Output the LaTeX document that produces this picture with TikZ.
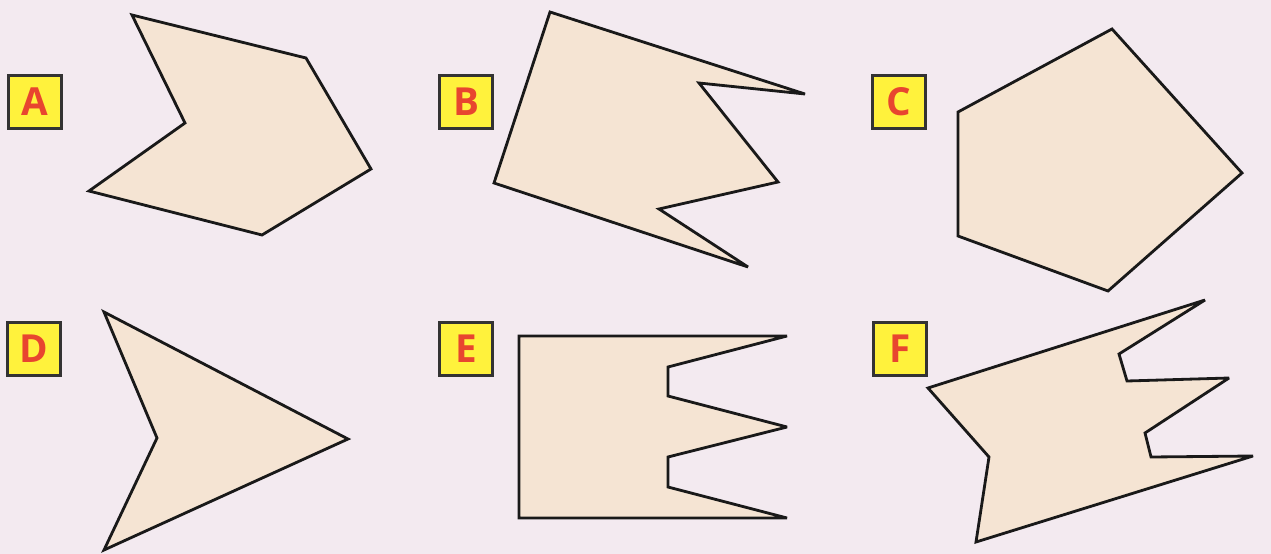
\documentclass[tikz,border=0pt]{standalone}
\usepackage{fontspec}
\setsansfont{Open Sans}
\usepackage{xcolor}
\definecolor{paper}{HTML}{F3EAF0}
\definecolor{skin}{HTML}{F5E4D3}
\definecolor{tagfill}{HTML}{FFF23C}
\definecolor{tagtext}{HTML}{E8452F}
\usetikzlibrary{positioning}

\begin{document}
\begin{tikzpicture}[x=0.02cm, y=-0.02cm,
  tag/.style={draw=black!80, line width=1.3pt, fill=tagfill, text=tagtext,
    minimum size=1.06cm, inner sep=0pt, font=\sffamily\bfseries\fontsize{22}{22}\selectfont},
  poly/.style={draw=black!90, fill=skin, line width=1.6pt, line join=miter, miter limit=3}]
  \fill[paper] (0,0) rectangle (1271,554);
  \useasboundingbox (0,0) rectangle (1271,554);
  % labels
  \node[tag] (tagA) at (35,102) {A};
  \node[tag] (tagB) at (466,102) {B};
  \node[tag] (tagC) at (899,102) {C};
  \node[tag] (tagD) at (34,349) {D};
  \node[tag] (tagE) at (466,349) {E};
  \node[tag] (tagF) at (900,349) {F};
  % top row
  \draw[poly] (132,15) -- (306,58) -- (371,169) -- (262,235) -- (89,191) -- (185,123) -- cycle;
  \draw[poly] (550,12) -- (805,94) -- (699,83) -- (778,182) -- (659,209) -- (748,267) -- (494,183) -- cycle;
  \draw[poly] (1112,29) -- (1242,173) -- (1108,291) -- (958,236) -- (958,112) -- cycle;
  % bottom row
  \draw[poly] (104,312) -- (348,439) -- (104,550) -- (157,438) -- cycle;
  \draw[poly] (519,336) -- (787,336) -- (668,367) -- (668,396) -- (787,427) -- (668,457)
    -- (668,487) -- (787,518) -- (519,518) -- cycle;
  \draw[poly] (928,388) -- (1205,300) -- (1119,354) -- (1127,381) -- (1229,378) -- (1145,433)
    -- (1151,457) -- (1253,456) -- (976,542) -- (989,457) -- cycle;
\end{tikzpicture}
\end{document}
